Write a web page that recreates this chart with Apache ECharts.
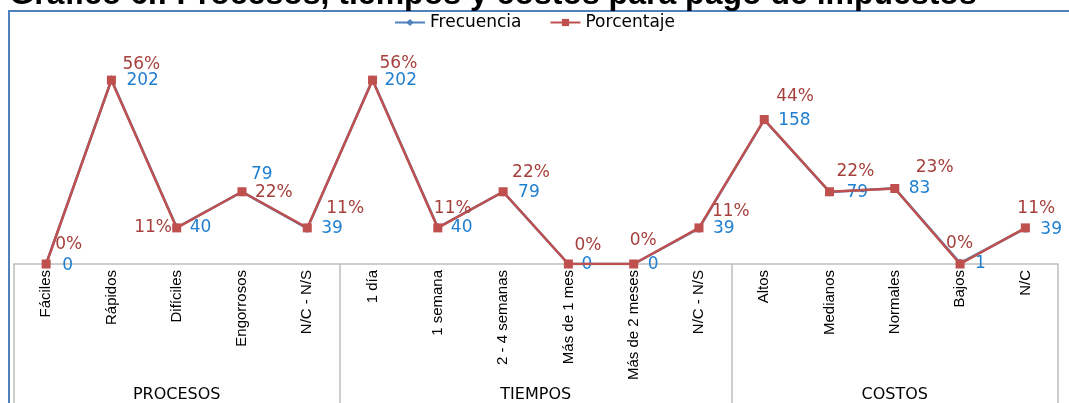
<!DOCTYPE html>
<html><head><meta charset="utf-8">
<script src="https://cdn.jsdelivr.net/npm/echarts@6/dist/echarts.min.js"></script>
<style>html,body{margin:0;padding:0;background:#fff}#c{width:1069px;height:403px}</style>
</head><body><div id="c"></div>
<script>
const categories = ['Fáciles','Rápidos','Difíciles','Engorrosos','N/C - N/S','1 día','1 semana','2 - 4 semanas','Más de 1 mes','Más de 2 meses','N/C - N/S','Altos','Medianos','Normales','Bajos','N/C'];
const groups = ['PROCESOS','TIEMPOS','COSTOS'];
const groupSizes = [5, 6, 5];
const frecuencia = [0,202,40,79,39, 202,40,79,0,0,39, 158,79,83,1,39];
const porcentaje = [0,56,11,22,11, 56,11,22,0,0,11, 44,22,23,0,11];
const totalPorGrupo = 360;

// label offsets (style only)
const redOff = [[-0.5,-19],[1.5,-16],[-52,0],[3.5,1],[9.5,-19],[-2.5,-17],[-13.5,-19],[-0.5,-19],[-3.5,-18],[-13.5,-23],[3.5,-16],[2.5,-23],[-2.5,-20],[11.5,-21],[-23.5,-20],[-17.5,-19]];
const blueOff = [[6.5,2],[5.5,1],[3.5,0],[-0.5,-17],[4.5,0],[2.5,1],[3.5,0],[5.5,1],[3.5,1],[4.5,1],[4.5,0],[4.5,1],[7.5,1],[4.5,0],[5.5,0],[5.5,1]];

// group boundaries and centres in category index units
const bounds = [-0.5]; const centres = [];
let acc = -0.5;
groupSizes.forEach(n => { centres.push(acc + n / 2); acc += n; bounds.push(acc); });

const yMax = 250;
const chart = echarts.init(document.getElementById('c'));
const labelFont = {fontFamily: 'DejaVu Sans', fontSize: 17};
chart.setOption({
  animation: false,
  backgroundColor: '#fff',
  graphic: [
    {type: 'rect', shape: {x: 9, y: 11, width: 1200, height: 600}, style: {fill: 'none', stroke: '#4f81bd', lineWidth: 2}, z: 0},
    {type: 'text', x: 493, y: 11, style: {text: 'Gráfico 6.: Procesos, tiempos y costos para pago de impuestos', fontFamily: 'Liberation Sans', fontWeight: 'bold', fontSize: 32, fill: '#000', align: 'center', verticalAlign: 'bottom'}}
  ],
  legend: {
    top: 9, left: 'center', itemWidth: 30, itemHeight: 9, itemGap: 28,
    textStyle: {fontFamily: 'DejaVu Sans', fontSize: 17, color: '#000'},
    data: ['Frecuencia', 'Porcentaje']
  },
  grid: {left: 13.5, right: 11, top: 36, bottom: 139, containLabel: false},
  xAxis: [
    {type: 'category', data: categories, boundaryGap: true,
     axisLine: {lineStyle: {color: '#bfbfbf', width: 1.5}},
     axisTick: {show: false},
     axisLabel: {rotate: 90, interval: 0, margin: 6, color: '#000', fontFamily: 'Liberation Sans', fontSize: 15}},
    {type: 'value', position: 'bottom', min: -0.5, max: 15.5, splitLine: {show: false},
     axisLine: {show: false},
     axisTick: {show: true, customValues: bounds, length: 140, lineStyle: {color: '#bfbfbf', width: 1.5}},
     axisLabel: {customValues: centres, margin: 123, color: '#000', fontFamily: 'DejaVu Sans', fontSize: 16,
       formatter: v => { const i = centres.findIndex(c => Math.abs(c - v) < 1e-6); return i >= 0 ? groups[i] : ''; }}}
  ],
  yAxis: [
    {type: 'value', min: 0, max: yMax, show: false, splitLine: {show: false}},
    {type: 'value', min: 0, max: yMax / totalPorGrupo * 100, show: false, splitLine: {show: false}}
  ],
  series: [
    {name: 'Frecuencia', type: 'line', xAxisIndex: 0, yAxisIndex: 0,
     data: frecuencia.map((v, i) => ({value: v, label: {offset: blueOff[i]}})),
     symbol: 'diamond', symbolSize: 9, itemStyle: {color: '#4f81bd'}, lineStyle: {color: '#4f81bd', width: 2.5},
     label: {show: true, position: 'right', distance: 5, color: '#1f7fd0', ...labelFont}, z: 2},
    {name: 'Porcentaje', type: 'line', xAxisIndex: 0, yAxisIndex: 1,
     data: porcentaje.map((v, i) => ({value: v, label: {offset: redOff[i]}})),
     symbol: 'rect', symbolSize: 9, itemStyle: {color: '#c0504d'}, lineStyle: {color: '#c0504d', width: 2.5},
     label: {show: true, position: 'right', distance: 5, color: '#a5403c', formatter: p => p.value + '%', ...labelFont}, z: 3}
  ]
});
</script></body></html>
